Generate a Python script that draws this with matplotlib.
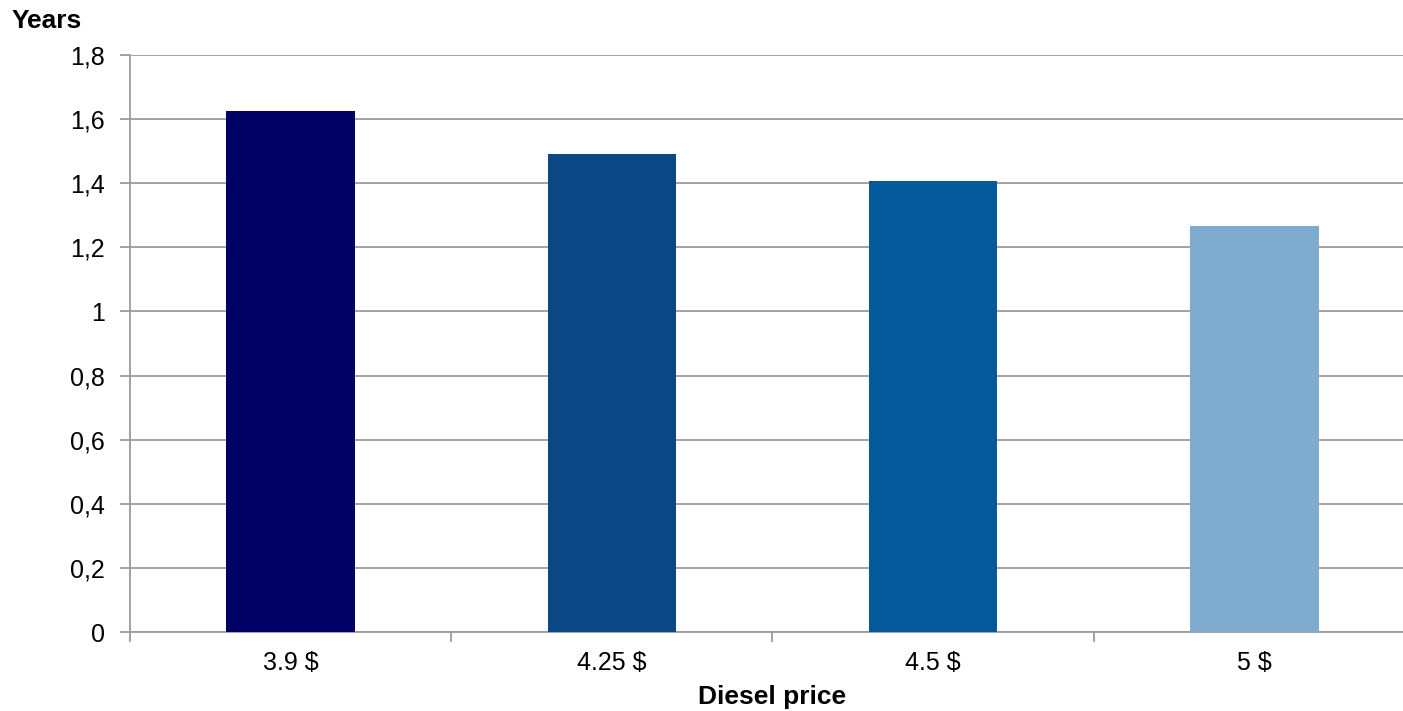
import numpy as np
import matplotlib.pyplot as plt

plt.rcParams["font.family"] = ["Liberation Sans", "DejaVu Sans"]

prices = ["3.9 $", "4.25 $", "4.5 $", "5 $"]
years = [1.625, 1.491, 1.407, 1.266]
colors = ["#000064", "#0A4784", "#03599A", "#7EABCE"]
yticks = [0, 0.2, 0.4, 0.6, 0.8, 1, 1.2, 1.4, 1.6, 1.8]
ytick_labels = ["0", "0,2", "0,4", "0,6", "0,8", "1", "1,2", "1,4", "1,6", "1,8"]

W, H = 1403, 711
fig = plt.figure(figsize=(W / 100, H / 100), dpi=100)
ax = fig.add_axes([130 / W, 79 / H, 1285 / W, 577 / H])

grey = "#9C9C9C"
x = np.arange(len(prices))
ax.bar(x, years, width=0.4, color=colors, zorder=3)

ax.set_xlim(-0.5, len(prices) - 0.5)
ax.set_ylim(0, 1.8)
ax.set_yticks(yticks)
ax.set_yticklabels(ytick_labels, fontsize=18)
ax.yaxis.grid(True, color=grey, linewidth=1.3, zorder=0)

# category boundaries get the tick marks, labels sit at the bar centres
ax.set_xticks(np.arange(len(prices) + 1) - 0.5)
ax.set_xticklabels([])
ax.set_xticks(x, minor=True)
ax.set_xticklabels(prices, minor=True, fontsize=18)
ax.tick_params(axis="x", which="major", length=7, width=1.3, color=grey)
ax.tick_params(axis="x", which="minor", length=0, pad=14)
ax.tick_params(axis="y", length=7, width=1.3, color=grey, pad=11)

for side in ["top", "right"]:
    ax.spines[side].set_visible(False)
for side in ["left", "bottom"]:
    ax.spines[side].set_color(grey)
    ax.spines[side].set_linewidth(1.3)

ax.set_xlabel("Diesel price", fontsize=19, fontweight="bold", va="center")
ax.xaxis.set_label_coords(0.5, (632 - 697) / 577)
fig.text(12 / W, 1 - 28 / H, "Years", fontsize=19, fontweight="bold",
         ha="left", va="baseline")

fig.savefig("out.png", dpi=100)
